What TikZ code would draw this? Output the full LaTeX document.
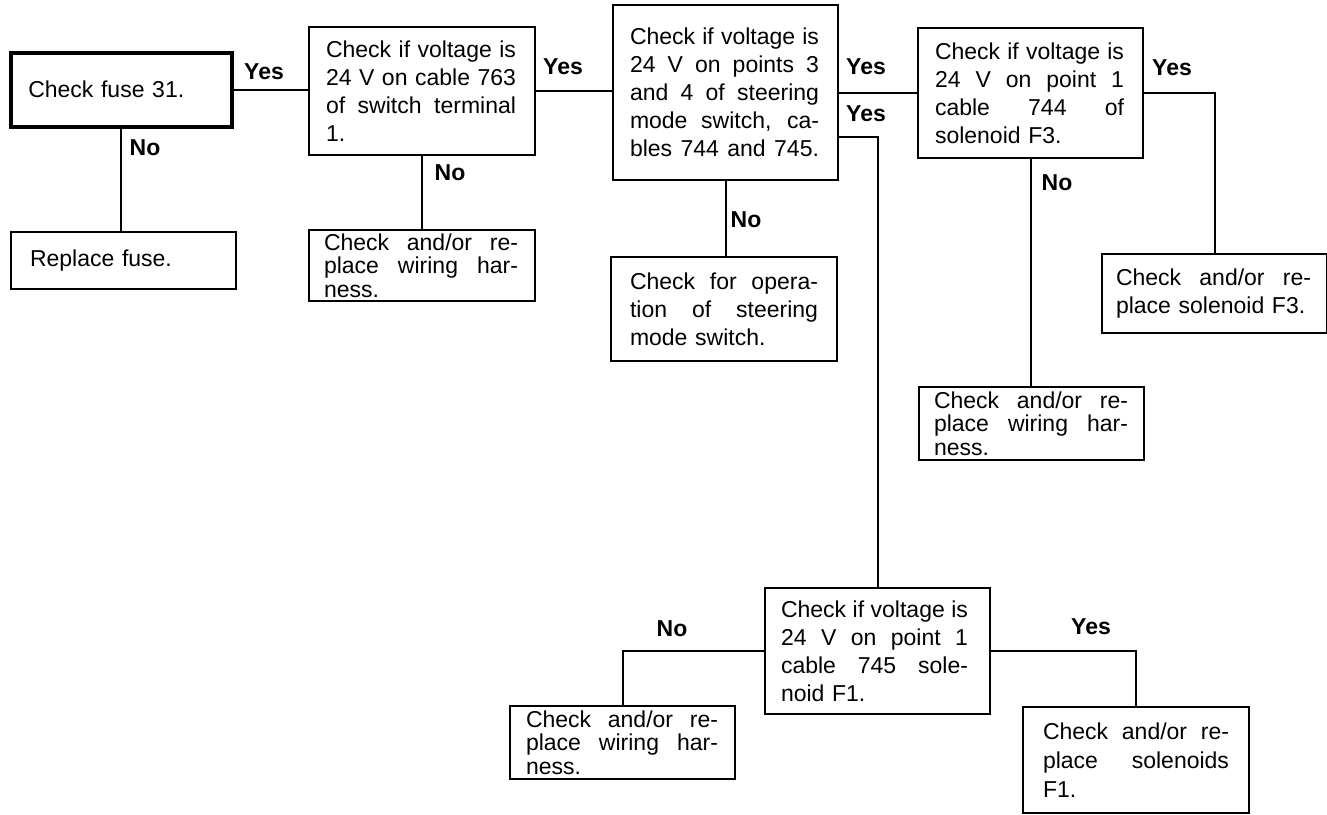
\documentclass[tikz,border=0pt]{standalone}
\usepackage{fontspec}
\setmainfont{Liberation Sans}
\newcommand{\jl}[2]{\makebox[#1][s]{\spaceskip=0pt\xspaceskip=0pt #2}\\}
\begin{document}
\begin{tikzpicture}[x=1pt,y=-1pt,
  box/.style={draw, line width=2pt, rectangle, anchor=north west, align=left,
    inner ysep=0pt, font=\fontsize{23}{28}\selectfont},
  harness/.style={box, font=\fontsize{23}{23.5}\selectfont},
  lab/.style={font=\fontsize{23}{28}\selectfont\bfseries, inner sep=0pt},
  link/.style={line width=2pt}]
\useasboundingbox (0,0) rectangle (1327,814);

\node[box, line width=4.5pt, minimum width=221pt, minimum height=74pt, inner xsep=17.5pt, text width=186pt] (fuse) at (8.5,50.5) {Check fuse 31.};
\node[box, minimum width=225pt, minimum height=57pt, inner xsep=19pt, text width=187pt] (replace) at (10,231) {Replace fuse.};
\node[box, minimum width=226pt, minimum height=128pt, inner xsep=17pt, text width=192pt] (box2) at (308,26)
  {\jl{190pt}{Check if voltage is}\jl{190pt}{24 V on cable 763}\jl{190pt}{of switch terminal}1.};
\node[harness, minimum width=226pt, minimum height=71pt, inner xsep=15pt, text width=196pt] (harness2) at (308,229)
  {\jl{194pt}{Check and/or re-}\jl{194pt}{place wiring har-}ness.};
\node[box, minimum width=225pt, minimum height=175pt, inner xsep=17pt, text width=191pt] (box3) at (612,4)
  {\jl{189pt}{Check if voltage is}\jl{189pt}{24 V on points 3}\jl{189pt}{and 4 of steering}\jl{189pt}{mode switch, ca-}\jl{189pt}{bles 744 and 745.}};
\node[box, minimum width=226pt, minimum height=104pt, inner xsep=19pt, text width=188pt] (op) at (610,256)
  {\jl{188pt}{Check for opera-}\jl{188pt}{tion of steering}mode switch.};
\node[box, minimum width=225pt, minimum height=130pt, inner xsep=17pt, text width=191pt] (box4) at (917,27)
  {\jl{189pt}{Check if voltage is}\jl{189pt}{24 V on point 1}\jl{189pt}{cable 744 of}solenoid F3.};
\node[box, minimum width=225pt, minimum height=79pt, inner xsep=14pt, text width=197pt] (f3) at (1101,253)
  {\jl{195pt}{Check and/or re-}place solenoid F3.};
\node[harness, minimum width=225pt, minimum height=73pt, inner xsep=15pt, text width=195pt] (harness4) at (918,386)
  {\jl{194pt}{Check and/or re-}\jl{194pt}{place wiring har-}ness.};
\node[box, minimum width=225pt, minimum height=126pt, inner xsep=16pt, text width=193pt] (box5) at (764,587)
  {\jl{187pt}{Check if voltage is}\jl{187pt}{24 V on point 1}\jl{187pt}{cable 745 sole-}noid F1.};
\node[harness, minimum width=225pt, minimum height=73pt, inner xsep=16pt, text width=193pt] (harness5) at (509,705)
  {\jl{192pt}{Check and/or re-}\jl{192pt}{place wiring har-}ness.};
\node[box, font=\fontsize{23}{29}\selectfont, minimum width=226pt, minimum height=106pt, inner xsep=20pt, text width=186pt] (f1) at (1022,706)
  {\jl{186pt}{Check and/or re-}\jl{186pt}{place solenoids}F1.};

\draw[link] (fuse.east) -- (fuse.east -| box2.west);
\draw[link] (fuse.south) -- (fuse.south |- replace.north);
\draw[link] (box2.east) -- (box2.east -| box3.west);
\draw[link] (box2.south) -- (box2.south |- harness2.north);
\draw[link] (box3.east) -- (box3.east -| box4.west);
\coordinate (y2) at ([yshift=-44.5pt]box3.east);
\draw[link] (y2) -| (box5.north);
\draw[link] (box3.south) -- (box3.south |- op.north);
\draw[link] (box4.east) -| (f3.north);
\draw[link] (box4.south) -- (box4.south |- harness4.north);
\draw[link] (box5.west) -| (harness5.north);
\draw[link] (box5.east) -| (f1.north);

\node[lab] (l1) at (264,72) {Yes};
\node[lab] (l2) at (145,148) {No};
\node[lab] (l3) at (563,67) {Yes};
\node[lab] (l4) at (450,173) {No};
\node[lab] (l5) at (866,67) {Yes};
\node[lab] (l6) at (866,114) {Yes};
\node[lab] (l7) at (746,220) {No};
\node[lab] (l8) at (1172,68) {Yes};
\node[lab] (l9) at (1057,183) {No};
\node[lab] (l10) at (672,629) {No};
\node[lab] (l11) at (1091,627) {Yes};
\end{tikzpicture}
\end{document}
